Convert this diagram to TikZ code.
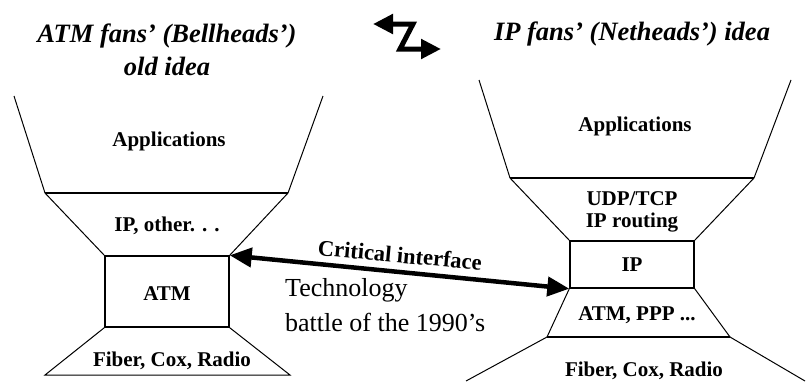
\documentclass[tikz,border=0pt]{standalone}
\usepackage{fontspec}
\setmainfont{Liberation Serif}
\usetikzlibrary{arrows.meta}
\newcommand\lblfont{\fontsize{21}{24}\selectfont\bfseries}
\newcommand\headfont{\fontsize{26.5}{33}\selectfont\bfseries\itshape}
\newcommand\notefont{\fontsize{26}{35}\selectfont}
\newcommand\critfont{\fontsize{22.5}{26}\selectfont\bfseries}
\begin{document}
\begin{tikzpicture}[x=1pt,y=-1pt,
  side/.style={line width=1pt},
  rule/.style={line width=1.4pt},
  layerbox/.style={draw, line width=1.4pt, inner sep=0pt, minimum width=124pt},
  lbl/.style={font=\lblfont, inner sep=0pt},
  heading/.style={font=\headfont, align=center, inner sep=0pt},
  bigarrow/.style={line width=4.5pt, {Triangle[length=22pt,width=19pt]}-{Triangle[length=22pt,width=19pt]}},
  zarrow/.style={line width=5pt, miter limit=10, {Triangle[length=20pt,width=19pt]}-{Triangle[length=20pt,width=19pt]}}
]
\useasboundingbox (0,0) rectangle (810,381);

% headings
\node[heading] (hleft) at (167,50) {ATM fans’ (Bellheads’)\\old idea};
\node[heading] (hright) at (632,34) {IP fans’ (Netheads’) idea};

% zig-zag double arrow between the two headings
\coordinate (z1) at (373,24);
\coordinate (z2) at (413,24);
\coordinate (z3) at (400,49);
\coordinate (z4) at (441,49);
\draw[zarrow] (z1) -- (z2) -- (z3) -- (z4);

% ---- left stack: ATM at the waist ----
\node[layerbox, minimum height=71pt] (atm) at (167,291.5) {};
\draw[side] (14,96) -- (45,193);
\draw[side] (323,96) -- (288,193);
\draw[rule] (45,193) -- (288,193);
\draw[side] (45,193) -- (atm.north west);
\draw[side] (288,193) -- (atm.north east);
\draw[side] (atm.south west) -- (45,375) -- (290,375) -- (atm.south east);

\node[lbl] (lapp) at (169,141) {Applications};
\node[lbl] (lip) at (167,226) {IP, other. . .};
\node[lbl] (latm) at (167,294) {ATM};
\node[lbl] (lphy) at (172,361) {Fiber, Cox, Radio};

% ---- right stack: IP at the waist ----
\node[layerbox, minimum height=47pt] (ip) at (632,264.5) {};
\draw[side] (479,80) -- (510,178);
\draw[side] (791,80) -- (754,178);
\draw[rule] (510,178) -- (754,178);
\draw[side] (510,178) -- (ip.north west);
\draw[side] (754,178) -- (ip.north east);
\draw[side] (ip.south west) -- (547,337);
\draw[side] (ip.south east) -- (730,337);
\draw[rule] (547,337) -- (730,337);
\draw[side] (547,337) -- (466,381);
\draw[side] (730,337) -- (805,381);

\node[lbl] (rapp) at (635,126) {Applications};
\node[lbl] (rudp) at (632,199) {UDP/TCP};
\node[lbl] (rrout) at (632,223) {IP routing};
\node[lbl] (rip) at (632,265) {IP};
\node[lbl] (rlink) at (637,315) {ATM, PPP ...};
\node[lbl] (rphy) at (644,371) {Fiber, Cox, Radio};

% ---- the critical interface between the two waists ----
\draw[bigarrow] (atm.north east) -- (ip.south west);
\node[font=\critfont, rotate=-5.4, inner sep=0pt] (crit) at (400,255) {Critical interface};
\node[font=\notefont, align=left, anchor=west, inner sep=0pt] (battle) at (285,305)
  {Technology\\battle of the 1990’s};
\end{tikzpicture}
\end{document}
